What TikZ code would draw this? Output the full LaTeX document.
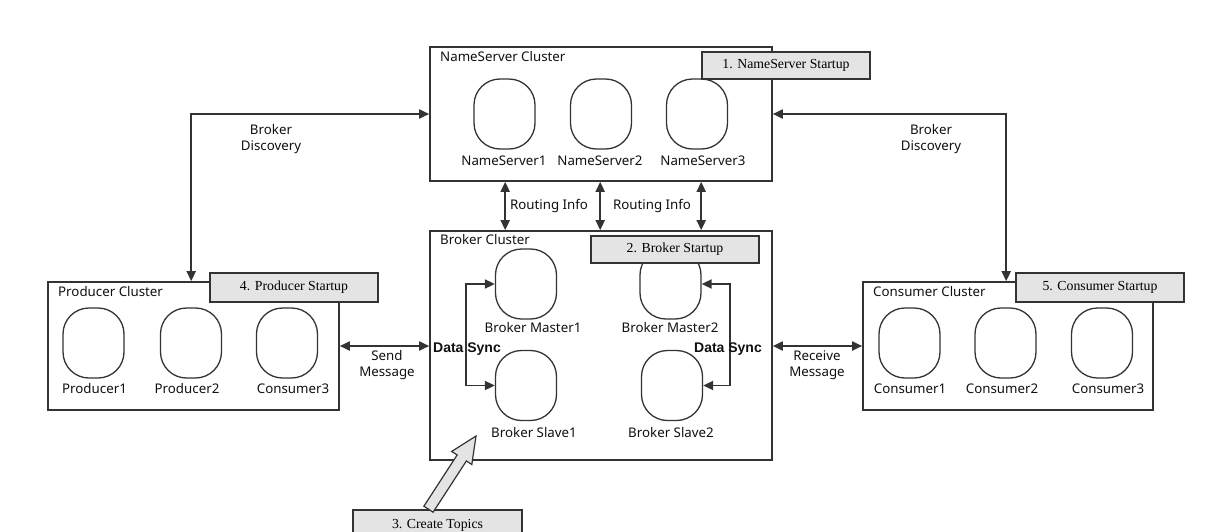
\documentclass[tikz,border=0pt]{standalone}
\usepackage{fontspec}
\setmainfont{Noto Sans}
\newfontfamily\seriffont{Liberation Serif}
\newfontfamily\dsfont{Liberation Sans}
\usetikzlibrary{arrows.meta,calc}
\definecolor{lc}{HTML}{333333}
\definecolor{tc}{HTML}{111111}
\definecolor{boxfill}{HTML}{E4E4E4}
\begin{document}
\begin{tikzpicture}[x=1pt,y=-1pt,
  cluster/.style={draw=lc, line width=1.6pt, fill=white, inner sep=0pt},
  oval/.style={draw=lc, line width=1.3pt, rounded corners=26pt, minimum width=61pt, minimum height=70pt, inner sep=0pt},
  lbl/.style={inner sep=0pt, text=tc, font=\fontsize{13.3}{16}\selectfont, align=center},
  dslbl/.style={inner sep=0pt, text=tc, font=\dsfont\bfseries\fontsize{14}{16}\selectfont},
  startbox/.style={draw=lc, line width=1.6pt, fill=boxfill, minimum width=168pt, inner sep=0pt, text=black, font=\seriffont\fontsize{13.8}{15}\selectfont},
  dbl/.style={draw=lc, line width=1.8pt, {Triangle[length=10pt,width=9pt]}-{Triangle[length=10pt,width=9pt]}},
]
\useasboundingbox (0,0) rectangle (1216,531);
\fill[white] (0,0) rectangle (1216,531);

% clusters
\node[cluster, minimum width=342pt, minimum height=134pt] (ns) at (601,114) {};
\node[cluster, minimum width=342pt, minimum height=229pt] (broker) at (601,345.5) {};
\node[cluster, minimum width=291pt, minimum height=128pt] (prod) at (193.5,346) {};
\node[cluster, minimum width=290pt, minimum height=128pt] (cons) at (1008,346) {};

\node[lbl, anchor=west] (nsl) at (440,57) {NameServer Cluster};
\node[lbl, anchor=west] (brl) at (440,240) {Broker Cluster};
\node[lbl, anchor=west] (prl) at (58,292) {Producer Cluster};
\node[lbl, anchor=west] (col) at (873,292) {Consumer Cluster};

% ovals
\node[oval] (ns1) at (504.5,114) {};
\node[oval] (ns2) at (601,114) {};
\node[oval] (ns3) at (697,114) {};
\node[oval] (bm1) at (526,284) {};
\node[oval] (bm2) at (670.5,284) {};
\node[oval] (bs1) at (526,385.5) {};
\node[oval] (bs2) at (672,385.5) {};
\node[oval] (p1) at (93.5,343) {};
\node[oval] (p2) at (191,343) {};
\node[oval] (p3) at (287,343) {};
\node[oval] (c1) at (909.5,343) {};
\node[oval] (c2) at (1005.5,343) {};
\node[oval] (c3) at (1102,343) {};

% oval labels
\node[lbl] (ns1l) at (504,161) {NameServer1};
\node[lbl] (ns2l) at (600,161) {NameServer2};
\node[lbl] (ns3l) at (703,161) {NameServer3};
\node[lbl] (bm1l) at (533,328) {Broker Master1};
\node[lbl] (bm2l) at (670,328) {Broker Master2};
\node[lbl] (bs1l) at (534,433) {Broker Slave1};
\node[lbl] (bs2l) at (671,433) {Broker Slave2};
\node[lbl] (p1l) at (94.5,389) {Producer1};
\node[lbl] (p2l) at (187,389) {Producer2};
\node[lbl] (p3l) at (293,389) {Consumer3};
\node[lbl] (c1l) at (910,389) {Consumer1};
\node[lbl] (c2l) at (1002,389) {Consumer2};
\node[lbl] (c3l) at (1108,389) {Consumer3};

% startup boxes
\node[startbox, minimum height=27pt] (s1) at (786,65.5) {1. NameServer Startup};
\node[startbox, minimum height=27pt] (s2) at (675,249.5) {2. Broker Startup};
\node[startbox, minimum height=29pt] (s4) at (294,287.5) {4. Producer Startup};
\node[startbox, minimum height=29pt] (s5) at (1100,287.5) {5. Consumer Startup};
\node[startbox, minimum width=169pt, minimum height=30pt] (s3) at (437.5,525) {3. Create Topics};

% broker discovery
\draw[dbl] (ns.west) -| ([xshift=144pt]prod.north west);
\draw[dbl] (ns.east) -| ([xshift=144pt]cons.north west);
\node[lbl] (bdl) at (271,139) {Broker\\Discovery};
\node[lbl] (bdr) at (931,139) {Broker\\Discovery};

% routing info
\draw[dbl] ([xshift=76pt]ns.south west) -- ([xshift=76pt]broker.north west);
\draw[dbl] ([xshift=171pt]ns.south west) -- ([xshift=171pt]broker.north west);
\draw[dbl] ([xshift=272pt]ns.south west) -- ([xshift=272pt]broker.north west);
\node[lbl] (ri1) at (549,206) {Routing Info};
\node[lbl] (ri2) at (652,206) {Routing Info};

% data sync
\draw[dbl] (bm1.west) -- ++(-29,0) |- (bs1.west);
\draw[dbl] (bm2.east) -- ++(28,0) |- (bs2.east);
\node[dslbl] (ds1) at (467,349) {Data Sync};
\node[dslbl] (ds2) at (728,349) {Data Sync};

% messages
\draw[dbl] (prod.east) -- (prod.east -| broker.west);
\draw[dbl] (cons.west -| broker.east) -- (cons.west);
\node[lbl] (sm) at (387,365) {Send\\Message};
\node[lbl] (rm) at (817,365) {Receive\\Message};

% create topics arrow
\coordinate (tb) at ([xshift=-9pt]s3.north);
\coordinate (tt) at (476,436);
\coordinate (th) at ($(tb)!0.70!(tt)$);
\filldraw[draw=lc, fill=boxfill, line width=1.2pt, line join=miter]
  ($(tb)!5.5pt!90:(tt)$) -- ($(th)!5.5pt!90:(tt)$) -- ($(th)!12pt!90:(tt)$) -- (tt)
  -- ($(th)!12pt!-90:(tt)$) -- ($(th)!5.5pt!-90:(tt)$) -- ($(tb)!5.5pt!-90:(tt)$) -- cycle;
\end{tikzpicture}
\end{document}
